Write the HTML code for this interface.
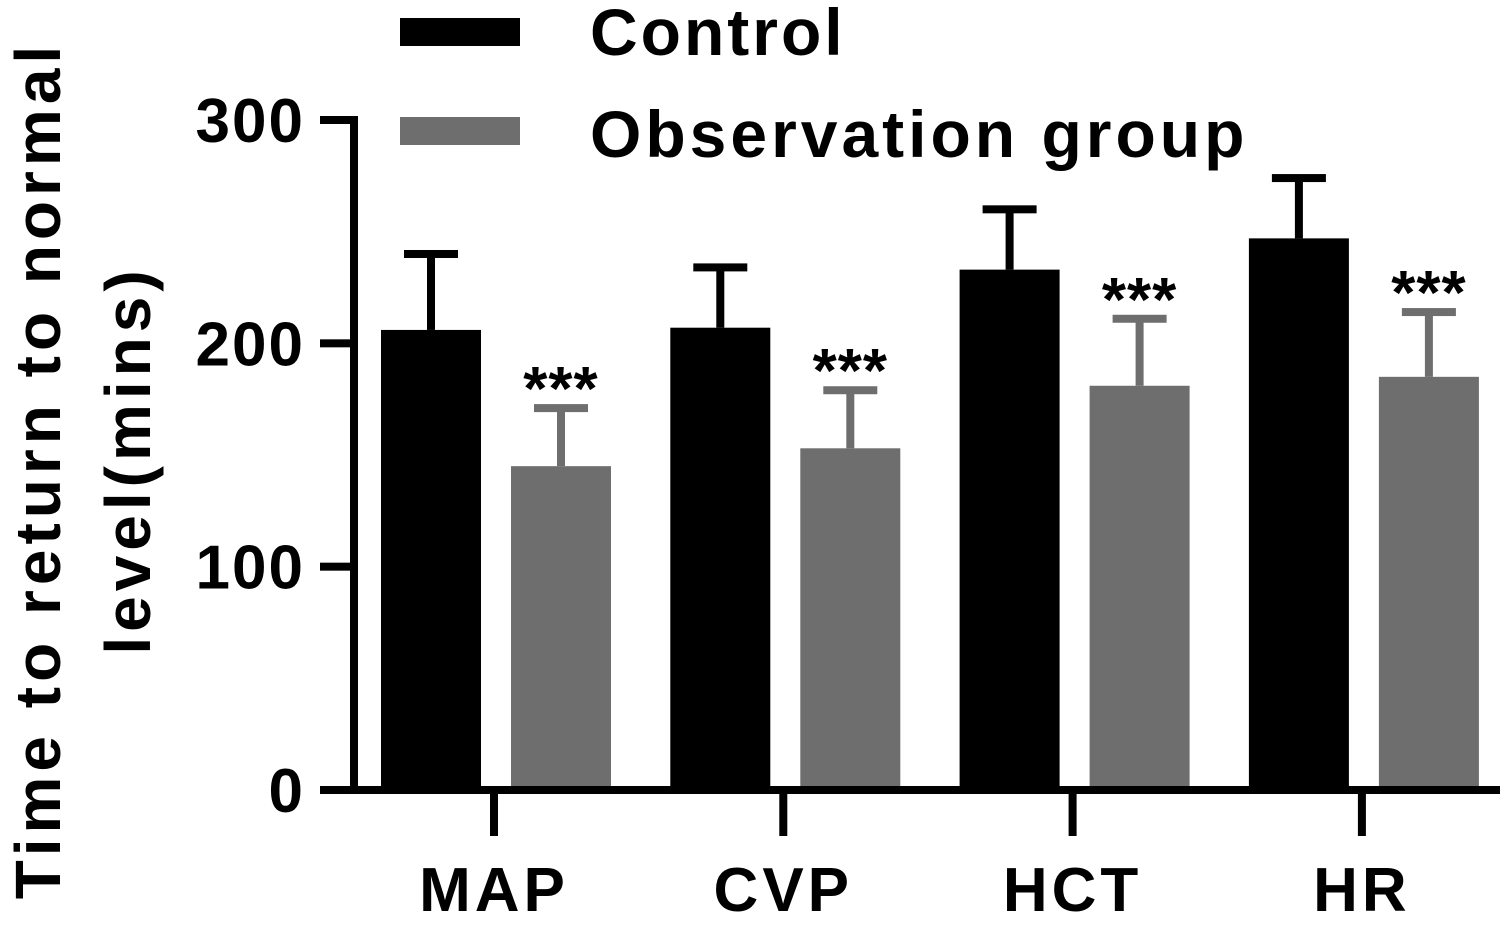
<!DOCTYPE html>
<html><head><meta charset="utf-8"><style>
html,body{margin:0;padding:0;background:#fff;}
svg text{font-family:"Liberation Sans",Arial,sans-serif;font-weight:bold;}
</style></head><body>
<svg id="chart" width="1500" height="921" viewBox="0 0 1500 921" xmlns="http://www.w3.org/2000/svg">
<g id="legend">
<rect x="400" y="18" width="120" height="28" fill="#000"/>
<text x="590" y="55" font-size="66" letter-spacing="3">Control</text>
<rect x="400" y="117" width="120" height="28" fill="#6e6e6e"/>
<text x="590" y="157" font-size="66" letter-spacing="4">Observation group</text>
</g>
<g font-size="64" letter-spacing="5">
<text x="60" y="470" text-anchor="middle" transform="rotate(-90 60 470)">Time to return to normal</text>
<text x="150" y="460" text-anchor="middle" transform="rotate(-90 150 460)">level(mins)</text>
</g>
<g id="marks"></g>
<g id="axes"></g>
</svg>
<script>
const categories = ["MAP","CVP","HCT","HR"];
const controlMeans = [206, 207, 233, 247];
const controlErr = [34, 27, 27, 27];
const obsMeans = [145, 153, 181, 185];
const obsErr = [26, 26, 30, 29];
const yTicks = [0,100,200,300];
const sigLabels = ["***","***","***","***"];

const NS="http://www.w3.org/2000/svg";
const y0=790, ppu=(790-120)/300;
const yScale=v=>y0-v*ppu;
const groupX=i=>494+i*289.3;
const barW=100;
function mk(tag,attrs,parent){const e=document.createElementNS(NS,tag);for(const k in attrs)e.setAttribute(k,attrs[k]);parent.appendChild(e);return e;}
const marks=document.getElementById('marks');
const axes=document.getElementById('axes');

categories.forEach((c,i)=>{
  const cx=groupX(i);
  const series=[[controlMeans[i],controlErr[i],cx-113,"#000","control"],[obsMeans[i],obsErr[i],cx+17,"#6e6e6e","observation"]];
  series.forEach(([v,e,x,col,nm])=>{
    const bc=x+barW/2, top=yScale(v+e);
    const eb=mk('rect',{x:bc-4,y:top,width:8,height:yScale(v)-top,fill:col},marks);
    
    
    const cap=mk('rect',{x:bc-27,y:top-4,width:54,height:8,fill:col},marks);
    
    
    const b=mk('rect',{x:x,y:yScale(v),width:barW,height:y0-yScale(v),fill:col},marks);
    
    
    if(nm==="observation"){
      const s=mk('text',{x:bc,y:top+2,'text-anchor':'middle','font-size':'62','letter-spacing':'1'},marks);
      s.textContent=sigLabels[i];
      
      
    }
  });
  const t=mk('rect',{x:cx-4,y:790,width:8,height:46,fill:'#000'},axes);
  
  
  const l=mk('text',{x:cx,y:911,'text-anchor':'middle','font-size':'62','letter-spacing':'4'},axes);
  l.textContent=c;
  
  
});
const ya=mk('rect',{x:350,y:116,width:8,height:678,fill:'#000'},axes);


const xa=mk('rect',{x:350,y:786,width:1150,height:8,fill:'#000'},axes);


yTicks.forEach(v=>{
  const y=yScale(v);
  const t=mk('rect',{x:320,y:y-4,width:34,height:8,fill:'#000'},axes);
  
  
  const l=mk('text',{x:305,y:y+22,'text-anchor':'end','font-size':'62','letter-spacing':'2'},axes);
  l.textContent=v;
  
  
});
</script>
</body></html>
